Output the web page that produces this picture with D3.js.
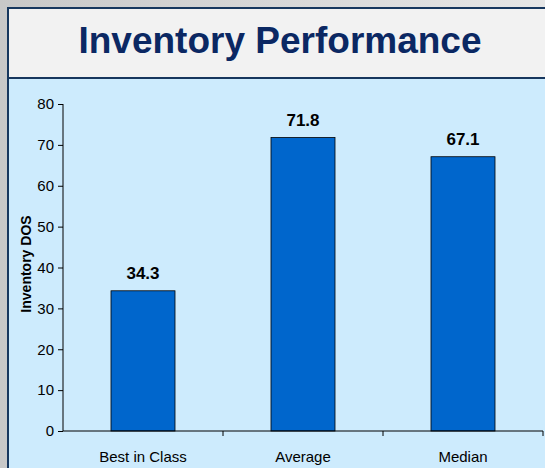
<!DOCTYPE html>
<html>
<head>
<meta charset="utf-8">
<script src="https://cdn.jsdelivr.net/npm/d3@7"></script>
<style>
  body { margin: 0; }
  svg { display: block; font-family: Arial, "Liberation Sans", sans-serif; }
</style>
</head>
<body>
<svg width="545" height="468"></svg>
<script>
let categories = ['Best in Class', 'Average', 'Median'];
let values = [34.3, 71.8, 67.1];
let yTicks = [0, 10, 20, 30, 40, 50, 60, 70, 80];

let width = 545,
    height = 468;

let svg = d3.select('svg');

// grey outer background
let grad = svg.append('defs').append('linearGradient')
  .attr('id', 'bg')
  .attr('x1', 0).attr('x2', 1).attr('y1', 0).attr('y2', 0);
grad.append('stop').attr('offset', 0).attr('stop-color', '#c8c8c8');
grad.append('stop').attr('offset', 1).attr('stop-color', '#e6e6e6');

svg.append('rect')
  .attr('width', width).attr('height', height)
  .attr('fill', 'url(#bg)');

// panel
svg.append('rect')
  .attr('x', 8).attr('y', 8)
  .attr('width', width).attr('height', height)
  .attr('fill', '#cdebfd')
  .attr('stroke', '#17375e')
  .attr('stroke-width', 2);

svg.append('rect')
  .attr('x', 8).attr('y', 8)
  .attr('width', width).attr('height', 70)
  .attr('fill', '#f2f2f2')
  .attr('stroke', '#17375e')
  .attr('stroke-width', 2);

svg.append('text')
  .attr('x', 280)
  .attr('y', 53)
  .attr('text-anchor', 'middle')
  .attr('font-size', 37)
  .attr('font-weight', 'bold')
  .attr('fill', '#0b2863')
  .text('Inventory Performance');

let x = d3.scaleBand()
  .domain(categories)
  .range([63, 543])
  .paddingInner(0.6)
  .paddingOuter(0.3);

let y = d3.scaleLinear()
  .domain([0, 80])
  .range([431, 104]);

// y axis
let yAxis = svg.append('g')
  .attr('transform', 'translate(63,0)')
  .call(d3.axisLeft(y).tickValues(yTicks).tickSize(5).tickPadding(4));
yAxis.select('.domain').attr('stroke', '#000').attr('d', 'M0,' + y(80) + 'V' + y(0));
yAxis.selectAll('text').attr('font-size', 15).attr('fill', '#000').attr('font-family', null);

svg.append('text')
  .attr('transform', 'translate(31,' + 264 + ') rotate(-90)')
  .attr('text-anchor', 'middle')
  .attr('font-size', 14)
  .attr('font-weight', 'bold')
  .text('Inventory DOS');

// bars
svg.append('g')
  .selectAll('rect')
  .data(values)
  .enter()
  .append('rect')
  .attr('x', (d, i) => x(categories[i]))
  .attr('y', d => y(d))
  .attr('width', x.bandwidth())
  .attr('height', d => y(0) - y(d))
  .attr('fill', '#0066cc')
  .attr('stroke', '#000')
  .attr('stroke-width', 0.8);

svg.append('g')
  .selectAll('text')
  .data(values)
  .enter()
  .append('text')
  .attr('x', (d, i) => x(categories[i]) + x.bandwidth() / 2)
  .attr('y', d => y(d) - 12)
  .attr('text-anchor', 'middle')
  .attr('font-size', 17)
  .attr('font-weight', 'bold')
  .text(d => d.toFixed(1));

// x axis
let xAxis = svg.append('g')
  .attr('transform', 'translate(0,' + y(0) + ')')
  .call(d3.axisBottom(x).tickSize(0).tickPadding(20));
xAxis.select('.domain').attr('stroke', '#000').attr('d', 'M63,0H543');
xAxis.selectAll('text').attr('font-size', 15).attr('fill', '#000').attr('font-family', null);

let bounds = categories.map(c => x(c) + x.bandwidth() + x.step() * x.paddingInner() / 2);
xAxis.selectAll('.bound')
  .data(bounds)
  .enter()
  .append('line')
  .attr('class', 'bound')
  .attr('x1', d => d).attr('x2', d => d)
  .attr('y1', 0).attr('y2', 5)
  .attr('stroke', '#000');
</script>
</body>
</html>
